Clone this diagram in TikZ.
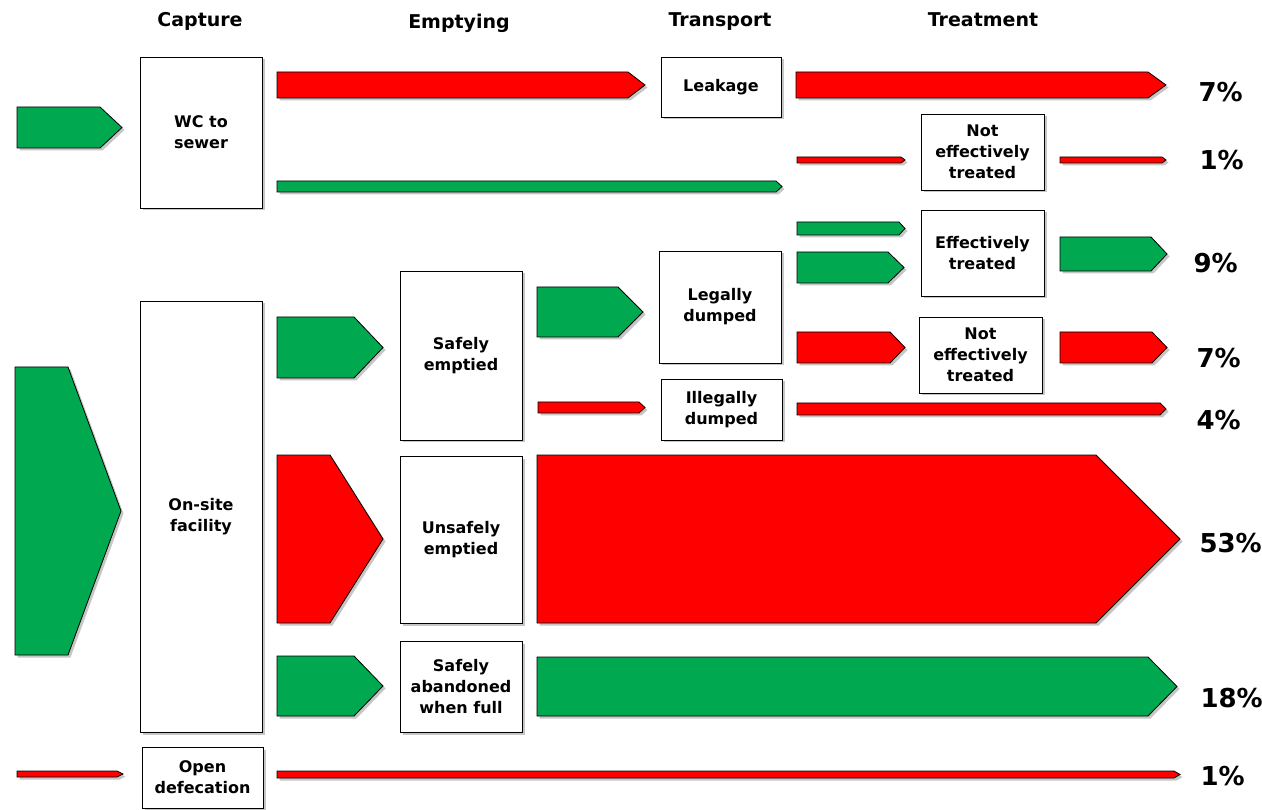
\documentclass[tikz,border=0pt]{standalone}
\usepackage{fontspec}
\setmainfont{DejaVu Sans}
\usetikzlibrary{shadows}
\definecolor{flowgreen}{RGB}{0,168,80}
\definecolor{flowred}{RGB}{255,0,0}

\begin{document}
\begin{tikzpicture}[x=1pt, y=-1pt,
  box/.style = {draw, fill=white, line width=0.9pt, align=center, inner sep=2pt,
    font=\bfseries\fontsize{16}{21}\selectfont,
    drop shadow={shadow xshift=2.5pt, shadow yshift=-2.5pt, opacity=0.45}},
  head/.style = {font=\bfseries\fontsize{19}{22}\selectfont, anchor=base},
  pct/.style = {font=\bfseries\fontsize{26}{30}\selectfont, anchor=base west},
  gflow/.style = {draw, line width=0.8pt, line join=miter, fill=flowgreen,
    drop shadow={shadow xshift=2.5pt, shadow yshift=-2.5pt, opacity=0.45}},
  rflow/.style = {draw, line width=0.8pt, line join=miter, fill=flowred,
    drop shadow={shadow xshift=2.5pt, shadow yshift=-2.5pt, opacity=0.45}}]
\useasboundingbox (0,0) rectangle (1262,810);

% column heads
\node[head] (capture) at (200,27) {Capture};
\node[head] (emptying) at (459,29) {Emptying};
\node[head] (transport) at (720,27) {Transport};
\node[head] (treatment) at (983,27) {Treatment};

% flows
\draw[gflow] (17,107) -- (100,107) -- (122,127.5) -- (100,148) -- (17,148) -- cycle;
\draw[gflow] (15,367) -- (68,367) -- (121,511) -- (68,655) -- (15,655) -- cycle;
\draw[rflow] (17,771) -- (117,771) -- (123,774) -- (117,777) -- (17,777) -- cycle;

\draw[rflow] (277,72) -- (628,72) -- (645,85) -- (628,98) -- (277,98) -- cycle;
\draw[gflow] (277,181) -- (776,181) -- (782,186.5) -- (776,192) -- (277,192) -- cycle;
\draw[rflow] (796,72) -- (1148,72) -- (1166,85) -- (1148,98) -- (796,98) -- cycle;
\draw[rflow] (797,157) -- (901,157) -- (905,160) -- (901,163) -- (797,163) -- cycle;
\draw[rflow] (1060,157) -- (1162,157) -- (1166,160) -- (1162,163) -- (1060,163) -- cycle;
\draw[gflow] (797,222) -- (899,222) -- (905,228.5) -- (899,235) -- (797,235) -- cycle;
\draw[gflow] (797,252) -- (888,252) -- (904,267.5) -- (888,283) -- (797,283) -- cycle;
\draw[gflow] (1060,237) -- (1151,237) -- (1167,254) -- (1151,271) -- (1060,271) -- cycle;

\draw[gflow] (277,317) -- (354,317) -- (383,347.5) -- (354,378) -- (277,378) -- cycle;
\draw[gflow] (537,287) -- (618,287) -- (643,312) -- (618,337) -- (537,337) -- cycle;
\draw[rflow] (538,402) -- (639,402) -- (645,407.5) -- (639,413) -- (538,413) -- cycle;
\draw[rflow] (797,332) -- (890,332) -- (905,347.5) -- (890,363) -- (797,363) -- cycle;
\draw[rflow] (1060,332) -- (1152,332) -- (1167,347.5) -- (1152,363) -- (1060,363) -- cycle;
\draw[rflow] (797,403) -- (1160,403) -- (1166,409) -- (1160,415) -- (797,415) -- cycle;
\draw[rflow] (277,455) -- (330,455) -- (383,539) -- (330,623) -- (277,623) -- cycle;
\draw[rflow] (537,455) -- (1096,455) -- (1180,539) -- (1096,623) -- (537,623) -- cycle;
\draw[gflow] (277,656) -- (354,656) -- (383,686) -- (354,716) -- (277,716) -- cycle;
\draw[gflow] (537,657) -- (1148,657) -- (1177,686.5) -- (1148,716) -- (537,716) -- cycle;
\draw[rflow] (277,771) -- (1174,771) -- (1180,774.5) -- (1174,778) -- (277,778) -- cycle;

% boxes
\node[box, minimum width=122, minimum height=151] (wc) at (201,132.5) {WC to\\sewer};
\node[box, minimum width=120, minimum height=60] (leak) at (721,87) {Leakage};
\node[box, minimum width=123, minimum height=76] (nottop) at (982.5,152) {Not\\effectively\\treated};
\node[box, minimum width=123, minimum height=86] (eff) at (982.5,253) {Effectively\\treated};
\node[box, minimum width=122, minimum height=112] (legal) at (720,307) {Legally\\dumped};
\node[box, minimum width=123, minimum height=76] (notlow) at (980.5,355) {Not\\effectively\\treated};
\node[box, minimum width=121, minimum height=61] (illegal) at (721.5,409.5) {Illegally\\dumped};
\node[box, minimum width=122, minimum height=169] (safe) at (461,355.5) {Safely\\emptied};
\node[box, minimum width=122, minimum height=431] (onsite) at (201,516.5) {On-site\\facility};
\node[box, minimum width=122, minimum height=167] (unsafe) at (461,539.5) {Unsafely\\emptied};
\node[box, minimum width=122, minimum height=91] (aband) at (461,686.5) {Safely\\abandoned\\when full};
\node[box, minimum width=121, minimum height=61] (open) at (202.5,777.5) {Open\\defecation};

% shares
\node[pct] (p1) at (1195,102) {7\%};
\node[pct] (p2) at (1196,170) {1\%};
\node[pct] (p3) at (1190,273) {9\%};
\node[pct] (p4) at (1193,368) {7\%};
\node[pct] (p5) at (1193,429) {4\%};
\node[pct] (p6) at (1196,552) {53\%};
\node[pct] (p7) at (1197,707) {18\%};
\node[pct] (p8) at (1197,785) {1\%};
\end{tikzpicture}
\end{document}
